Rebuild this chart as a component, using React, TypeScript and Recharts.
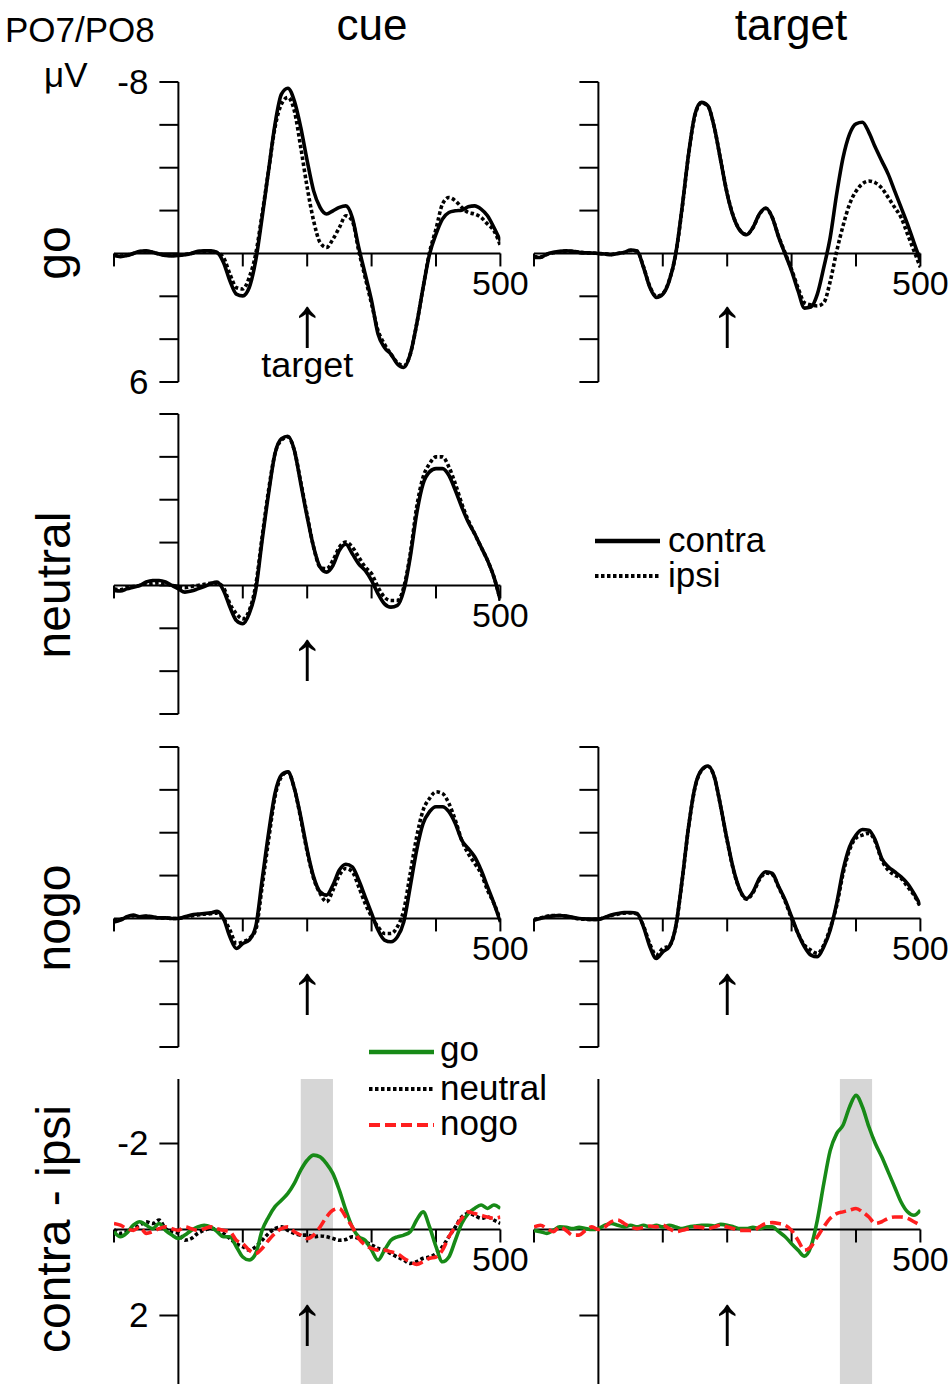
import React from 'react';
import {
  LineChart,
  Line,
  XAxis,
  YAxis,
  ReferenceLine,
  ReferenceArea,
  ReferenceDot,
} from 'recharts';

// time axis (ms), one sample every 10 ms
const TIME_MS = [
  -100, -90, -80, -70, -60, -50, -40, -30, -20, -10,
  0, 10, 20, 30, 40, 50, 60, 70, 80, 90,
  100, 110, 120, 130, 140, 150, 160, 170, 180, 190,
  200, 210, 220, 230, 240, 250, 260, 270, 280, 290,
  300, 310, 320, 330, 340, 350, 360, 370, 380, 390,
  400, 410, 420, 430, 440, 450, 460, 470, 480, 490,
  500,
];

// PO7/PO8 ERPs (µV), negative up
const GO_CUE_CONTRA = [
  0.1, 0.15, 0.1, 0, -0.1, -0.12, -0.05, 0.03, 0.1, 0.12,
  0.1, 0.06, 0, -0.1, -0.12, -0.12, -0.05, 0.42, 1.28, 1.9,
  1.98, 1.59, 0.34, -1.68, -3.86, -6.03, -7.43, -7.71, -7.12, -5.88,
  -4.32, -2.92, -2.15, -1.84, -1.99, -2.15, -2.22, -1.68, -0.28, 0.96,
  2.21, 3.76, 4.39, 4.7, 5.16, 5.32, 4.7, 3.3, 1.59, 0.03,
  -0.9, -1.6, -1.91, -1.99, -2.02, -2.18, -2.22, -2.07, -1.76, -1.21,
  -0.59,
];
const GO_CUE_IPSI = [
  0.05, 0.12, 0.08, 0, -0.08, -0.1, -0.05, 0.02, 0.08, 0.1,
  0.08, 0.05, 0, -0.08, -0.1, -0.1, -0.04, 0.19, 0.96, 1.59,
  1.66, 1.12, 0.03, -1.84, -3.86, -5.88, -6.97, -7.28, -6.66, -4.95,
  -3.08, -1.52, -0.51, -0.28, -0.67, -1.21, -1.76, -1.52, -0.12, 1.12,
  2.36, 3.6, 4.23, 4.7, 5.09, 5.24, 4.7, 3.3, 1.59, -0.05,
  -1.14, -2.3, -2.61, -2.46, -2.15, -1.91, -1.84, -1.68, -1.37, -1.06,
  -0.36,
];
const GO_TARGET_CONTRA = [
  0.19, 0.19, 0.03, -0.05, -0.1, -0.12, -0.1, -0.05, -0.03, -0.02,
  0, 0.03, 0.06, 0, -0.05, -0.16, -0.12, 0.65, 1.59, 2.05,
  1.9, 1.28, 0.03, -2.15, -4.63, -6.5, -7.05, -6.89, -5.88, -4.32,
  -2.77, -1.68, -1.06, -0.87, -1.21, -1.84, -2.12, -1.68, -0.75, 0.03,
  0.81, 1.74, 2.55, 2.5, 1.9, 0.65, -0.75, -2.77, -4.48, -5.57,
  -6.05, -6.12, -5.65, -4.95, -4.32, -3.7, -2.92, -2.15, -1.37, -0.51,
  0.34,
];
const GO_TARGET_IPSI = [
  0.15, 0.17, 0.05, -0.03, -0.08, -0.1, -0.1, -0.06, -0.03, -0.02,
  0, 0.02, 0.05, 0, -0.04, -0.14, -0.1, 0.62, 1.55, 2.0,
  1.87, 1.25, 0.05, -2.1, -4.6, -6.45, -7.02, -6.88, -5.88, -4.34,
  -2.8, -1.7, -1.08, -0.88, -1.2, -1.82, -2.1, -1.68, -0.78, -0.02,
  0.75, 1.6, 2.3, 2.4, 2.45, 2.3, 1.3, -0.1, -1.3, -2.3,
  -2.9, -3.25, -3.38, -3.3, -3.05, -2.61, -2.15, -1.68, -0.9, -0.12,
  0.65,
];
const NEUTRAL_CUE_CONTRA = [
  0.23, 0.26, 0.16, 0.08, 0, -0.16, -0.23, -0.23, -0.16, 0,
  0.16, 0.31, 0.26, 0.16, 0.05, -0.08, -0.16, 0.23, 1.01, 1.64,
  1.79, 1.32, 0.23, -2.1, -4.28, -6.15, -6.85, -6.96, -6.31, -4.75,
  -3.19, -1.79, -0.86, -0.62, -0.93, -1.64, -1.92, -1.48, -1.01, -0.7,
  -0.23, 0.39, 0.86, 1.01, 0.93, 0.23, -1.32, -3.35, -4.75, -5.3,
  -5.45, -5.45, -5.14, -4.44, -3.66, -2.96, -2.41, -1.79, -1.17, -0.39,
  0.7,
];
const NEUTRAL_CUE_IPSI = [
  0.15, 0.2, 0.1, 0.05, 0, -0.08, -0.1, -0.12, -0.08, 0,
  0.05, 0.1, 0.05, 0, -0.05, -0.1, -0.1, 0.1, 0.86, 1.32,
  1.56, 1.17, 0, -2.26, -4.44, -6.15, -6.78, -6.93, -6.31, -4.83,
  -3.27, -1.79, -0.86, -0.78, -1.17, -1.79, -2.02, -1.79, -1.32, -0.86,
  -0.55, 0.08, 0.55, 0.7, 0.7, 0.08, -1.48, -3.66, -5.06, -5.68,
  -6.0, -6.0, -5.53, -4.75, -3.82, -3.04, -2.41, -1.79, -1.17, -0.39,
  0.7,
];
const NOGO_CUE_CONTRA = [
  0.16, 0.08, -0.08, -0.16, -0.08, -0.11, -0.08, -0.03, -0.03, 0,
  0, -0.08, -0.16, -0.2, -0.23, -0.26, -0.33, 0, 0.86, 1.4,
  1.17, 1.01, 0.39, -1.79, -3.97, -5.83, -6.69, -6.84, -6.07, -4.74,
  -3.19, -1.94, -1.24, -1.09, -1.56, -2.26, -2.53, -2.41, -1.79, -1.01,
  -0.23, 0.54, 1.01, 1.09, 0.86, 0.16, -1.48, -3.19, -4.43, -4.98,
  -5.21, -5.21, -4.98, -4.43, -3.65, -3.27, -2.88, -2.26, -1.48, -0.7,
  0.16,
];
const NOGO_CUE_IPSI = [
  0.12, 0.05, -0.06, -0.12, -0.06, -0.1, -0.06, -0.02, -0.02, 0,
  0, -0.06, -0.12, -0.16, -0.2, -0.22, -0.25, 0, 0.54, 1.17,
  1.09, 0.93, 0.54, -1.48, -3.65, -5.68, -6.61, -6.84, -6.07, -4.66,
  -3.11, -1.87, -1.17, -0.78, -1.32, -2.02, -2.33, -2.18, -1.48, -0.7,
  -0.08, 0.39, 0.7, 0.7, 0.39, -0.39, -2.1, -3.81, -5.05, -5.6,
  -5.91, -5.83, -5.37, -4.59, -3.65, -3.03, -2.57, -2.1, -1.32, -0.7,
  0.08,
];
const NOGO_TARGET_CONTRA = [
  0.08, 0, -0.08, -0.12, -0.14, -0.11, -0.05, 0, 0.03, 0.05,
  0.05, -0.05, -0.16, -0.23, -0.28, -0.28, -0.23, 0.39, 1.32, 1.87,
  1.56, 1.32, 0.39, -1.79, -4.28, -6.14, -6.92, -7.11, -6.61, -5.21,
  -3.65, -2.26, -1.32, -0.93, -1.24, -1.87, -2.18, -2.1, -1.48, -0.86,
  -0.08, 0.7, 1.32, 1.71, 1.79, 1.32, 0.54, -0.7, -2.26, -3.34,
  -3.89, -4.15, -4.12, -3.65, -2.8, -2.41, -2.18, -1.94, -1.63, -1.17,
  -0.62,
];
const NOGO_TARGET_IPSI = [
  0.05, -0.02, -0.1, -0.14, -0.14, -0.1, -0.04, 0.02, 0.04, 0.05,
  0.04, -0.04, -0.14, -0.2, -0.25, -0.26, -0.2, 0.35, 1.2, 1.71,
  1.4, 1.28, 0.4, -1.75, -4.25, -6.1, -6.9, -7.1, -6.6, -5.2,
  -3.62, -2.22, -1.3, -0.9, -1.2, -1.8, -2.12, -2.05, -1.45, -0.8,
  0, 0.7, 1.25, 1.48, 1.63, 1.24, 0.45, -0.6, -2.1, -3.2,
  -3.75, -3.89, -3.97, -3.58, -2.72, -2.26, -2.02, -1.87, -1.48, -1.09,
  -0.54,
];

// contra - ipsi difference waves (µV)
const DIFF_CUE_GO = [
  0.05, 0.17, 0.08, -0.1, -0.18, -0.1, -0.02, -0.14, 0.02, 0.13,
  0.21, 0.13, 0.02, -0.06, -0.1, -0.06, 0.05, 0.17, 0.17, 0.4,
  0.64, 0.71, 0.56, 0.02, -0.29, -0.53, -0.68, -0.84, -1.07, -1.38,
  -1.61, -1.73, -1.69, -1.53, -1.3, -0.91, -0.45, -0.06, 0.17, 0.25,
  0.48, 0.71, 0.48, 0.25, 0.17, 0.13, 0.05, -0.22, -0.41, -0.06,
  0.4, 0.75, 0.64, 0.25, -0.14, -0.37, -0.49, -0.57, -0.49, -0.57,
  -0.49,
];
const DIFF_CUE_NEUTRAL = [
  0, 0.09, 0.05, -0.02, -0.1, -0.18, -0.14, -0.22, -0.02, 0.05,
  0.09, 0.25, 0.21, 0.09, 0.02, -0.02, 0, 0.09, 0.21, 0.33,
  0.4, 0.48, 0.4, 0.25, 0.09, -0.02, -0.06, 0.02, 0.09, 0.13,
  0.13, 0.17, 0.15, 0.17, 0.21, 0.25, 0.23, 0.17, 0.21, 0.29,
  0.36, 0.44, 0.48, 0.56, 0.64, 0.71, 0.79, 0.75, 0.67, 0.64,
  0.56, 0.4, 0.17, -0.06, -0.29, -0.37, -0.33, -0.26, -0.29, -0.22,
  -0.14,
];
const DIFF_CUE_NOGO = [
  -0.14, -0.1, -0.02, 0.02, -0.06, 0.09, 0.05, -0.02, -0.06, -0.02,
  0.02, -0.06, -0.02, 0.02, -0.02, -0.06, -0.02, 0.02, 0.05, 0.25,
  0.33, 0.48, 0.56, 0.44, 0.25, 0.09, -0.02, -0.06, 0.05, 0.13,
  0.21, 0.13, -0.06, -0.29, -0.45, -0.49, -0.29, -0.06, 0.21, 0.36,
  0.44, 0.48, 0.48, 0.52, 0.56, 0.67, 0.75, 0.81, 0.75, 0.67,
  0.64, 0.48, 0.17, -0.06, -0.26, -0.41, -0.37, -0.33, -0.29, -0.26,
  -0.29,
];
const DIFF_TARGET_GO = [
  0.02, 0.05, 0.09, 0.02, -0.06, -0.05, -0.02, -0.05, -0.02, 0,
  -0.02, -0.1, -0.14, -0.1, -0.06, -0.1, -0.06, -0.1, -0.06, -0.1,
  -0.06, -0.1, -0.06, -0.02, -0.06, -0.08, -0.1, -0.1, -0.08, -0.12,
  -0.1, -0.06, -0.02, -0.02, -0.05, -0.02, -0.06, -0.06, 0.05, 0.17,
  0.33, 0.48, 0.62, 0.4, -0.22, -1.07, -1.84, -2.23, -2.43, -2.85,
  -3.12, -2.85, -2.39, -2.0, -1.69, -1.34, -0.99, -0.64, -0.41, -0.33,
  -0.45,
];
const DIFF_TARGET_NOGO = [
  -0.06, -0.1, -0.02, 0.05, -0.06, 0.02, 0.13, 0.13, 0.02, -0.06,
  0, -0.06, -0.18, -0.22, -0.14, -0.06, -0.02, -0.05, -0.08, -0.06,
  -0.1, -0.02, 0.05, 0.02, -0.02, -0.06, -0.05, -0.02, -0.06, -0.1,
  -0.06, -0.02, 0.02, 0.02, 0.03, -0.06, -0.14, -0.16, -0.14, -0.1,
  0.02, 0.25, 0.48, 0.4, 0.17, -0.06, -0.26, -0.37, -0.41, -0.45,
  -0.49, -0.41, -0.29, -0.14, -0.18, -0.26, -0.29, -0.29, -0.26, -0.18,
  -0.1,
];

// ticks and windows
const ERP_TICKS = [-8, -6, -4, -2, 0, 2, 4, 6];
const ERP_TICK_LABELS = [-8, 6];
const DIFF_TICKS = [-2, 2];
const TIME_TICKS = [-100, 100, 200, 300, 400, 500];
const CUE_WINDOW = [190, 240];
const TARGET_WINDOW = [375, 425];

const FONT = '"Liberation Sans", Arial, Helvetica, sans-serif';
const GREEN = '#178a17';
const RED = '#ff1f1f';
const BAND = '#d6d6d6';

// page layout (px)
const PX_PER_MS = 0.644;
const PAD = 60;
const CUE_AXIS_X = 178;
const TARGET_AXIS_X = 598;
const ERP_PX_PER_UV = 21.43;
const DIFF_PX_PER_UV = 43;
const ERP_DOMAIN = [-8, 6];
const DIFF_DOMAIN = [-3.5, 3.6];

type Trace = { key: string; values: number[]; color: string; width: number; dash?: string };

const contra = (values: number[]): Trace => ({ key: 'contra', values, color: '#000', width: 3.6 });
const ipsi = (values: number[]): Trace => ({ key: 'ipsi', values, color: '#000', width: 3.6, dash: '3.5 2.5' });

const pinned = (text: string, dx: number, dy: number, size: number, anchor = 'middle') =>
  (props: any) => {
    const vb = props.viewBox || {};
    const cx = (vb.x ?? 0) + (vb.width ?? 0) / 2;
    const cy = (vb.y ?? 0) + (vb.height ?? 0) / 2;
    return (
      <text x={cx + dx} y={cy + dy} textAnchor={anchor} fontSize={size} fontFamily={FONT} fill="#000">
        {text}
      </text>
    );
  };

function Panel({
  axisX,
  zeroY,
  domain,
  pxPerUv,
  traces,
  yTicks,
  yLabels = [],
  band,
  arrowDy,
  showTarget = false,
}: {
  axisX: number;
  zeroY: number;
  domain: number[];
  pxPerUv: number;
  traces: Trace[];
  yTicks: number[];
  yLabels?: number[];
  band?: number[];
  arrowDy: number;
  showTarget?: boolean;
}) {
  const [lo, hi] = domain;
  const plotW = 600 * PX_PER_MS;
  const plotH = (hi - lo) * pxPerUv;
  const left = axisX - 100 * PX_PER_MS - PAD;
  const top = zeroY + lo * pxPerUv - PAD;
  const yTickMs = 19 / PX_PER_MS;
  const xTickUv = 13 / pxPerUv;

  const rows = TIME_MS.map((t, i) => {
    const row: Record<string, number> = { t };
    traces.forEach(tr => {
      row[tr.key] = tr.values[i];
    });
    return row;
  });

  const axisStroke = { stroke: '#000', strokeWidth: 2 };

  return (
    <div style={{ position: 'absolute', left, top }}>
      <LineChart
        width={plotW + 2 * PAD}
        height={plotH + 2 * PAD}
        data={rows}
        margin={{ top: PAD, right: PAD, bottom: PAD, left: PAD }}
      >
        <XAxis dataKey="t" type="number" domain={[-100, 500]} allowDataOverflow hide />
        <YAxis type="number" domain={[lo, hi]} reversed allowDataOverflow hide />
        {band && (
          <ReferenceArea x1={band[0]} x2={band[1]} y1={lo} y2={hi} fill={BAND} fillOpacity={1} stroke="none" />
        )}
        <ReferenceLine y={0} {...axisStroke} />
        <ReferenceLine segment={[{ x: 0, y: lo }, { x: 0, y: hi }]} {...axisStroke} />
        {yTicks.map(v => (
          <ReferenceLine key={`yt-${v}`} segment={[{ x: -yTickMs, y: v }, { x: 0, y: v }]} {...axisStroke} />
        ))}
        {TIME_TICKS.map(t => (
          <ReferenceLine key={`xt-${t}`} segment={[{ x: t, y: 0 }, { x: t, y: xTickUv }]} {...axisStroke} />
        ))}
        {traces.map(tr => (
          <Line
            key={tr.key}
            dataKey={tr.key}
            type="monotone"
            stroke={tr.color}
            strokeWidth={tr.width}
            strokeDasharray={tr.dash}
            strokeLinecap="butt"
            dot={false}
            activeDot={false}
            isAnimationActive={false}
          />
        ))}
        {yLabels.map(v => (
          <ReferenceDot
            key={`yl-${v}`}
            x={0}
            y={v}
            r={1}
            fill="none"
            stroke="none"
            label={pinned(String(v), -30, 12, 35, 'end')}
          />
        ))}
        <ReferenceDot x={500} y={0} r={1} fill="none" stroke="none" label={pinned('500', 0, 42, 34)} />
        <ReferenceDot x={200} y={0} r={1} fill="none" stroke="none" label={pinned('↑', 0, arrowDy, 70)} />
        {showTarget && (
          <ReferenceDot x={200} y={0} r={1} fill="none" stroke="none" label={pinned('target', 0, 124, 36)} />
        )}
      </LineChart>
    </div>
  );
}

function Overlay() {
  const t = { fontFamily: FONT, fill: '#000' };
  const rowLabel = (text: string, y: number) => (
    <text x={70} y={y} fontSize={48} textAnchor="middle" transform={`rotate(-90 70 ${y})`} {...t}>
      {text}
    </text>
  );
  return (
    <svg width={950} height={1384} style={{ position: 'absolute', left: 0, top: 0 }}>
      <text x={5} y={42} fontSize={35} {...t}>PO7/PO8</text>
      <text x={44} y={87} fontSize={35} {...t}>μV</text>
      <text x={372} y={40} fontSize={44} textAnchor="middle" {...t}>cue</text>
      <text x={791} y={40} fontSize={44} textAnchor="middle" {...t}>target</text>
      {rowLabel('go', 253)}
      {rowLabel('neutral', 585)}
      {rowLabel('nogo', 918)}
      {rowLabel('contra - ipsi', 1229)}

      <line x1={595} x2={660} y1={541} y2={541} stroke="#000" strokeWidth={4.5} />
      <text x={668} y={552} fontSize={35} {...t}>contra</text>
      <line x1={595} x2={660} y1={576} y2={576} stroke="#000" strokeWidth={4} strokeDasharray="3.5 2.5" />
      <text x={668} y={587} fontSize={35} {...t}>ipsi</text>

      <line x1={369} x2={434} y1={1052} y2={1052} stroke={GREEN} strokeWidth={4.5} />
      <text x={440} y={1061} fontSize={35} {...t}>go</text>
      <line x1={369} x2={434} y1={1089} y2={1089} stroke="#000" strokeWidth={4} strokeDasharray="3.5 2.5" />
      <text x={440} y={1100} fontSize={35} {...t}>neutral</text>
      <line x1={369} x2={434} y1={1125} y2={1125} stroke={RED} strokeWidth={4} strokeDasharray="11 5" />
      <text x={440} y={1135} fontSize={35} {...t}>nogo</text>
    </svg>
  );
}

export default function App() {
  const diffTrace = (key: string, values: number[], color: string, dash?: string): Trace => ({
    key,
    values,
    color,
    width: 3.6,
    dash,
  });

  return (
    <div
      style={{
        position: 'absolute',
        left: 0,
        top: 0,
        width: 950,
        height: 1384,
        overflow: 'hidden',
        background: '#fff',
      }}
    >
      <Overlay />
      <Panel
        axisX={CUE_AXIS_X}
        zeroY={253}
        domain={ERP_DOMAIN}
        pxPerUv={ERP_PX_PER_UV}
        traces={[ipsi(GO_CUE_IPSI), contra(GO_CUE_CONTRA)]}
        yTicks={ERP_TICKS}
        yLabels={ERP_TICK_LABELS}
        arrowDy={93}
        showTarget
      />
      <Panel
        axisX={TARGET_AXIS_X}
        zeroY={253}
        domain={ERP_DOMAIN}
        pxPerUv={ERP_PX_PER_UV}
        traces={[ipsi(GO_TARGET_IPSI), contra(GO_TARGET_CONTRA)]}
        yTicks={ERP_TICKS}
        arrowDy={93}
      />
      <Panel
        axisX={CUE_AXIS_X}
        zeroY={585}
        domain={ERP_DOMAIN}
        pxPerUv={ERP_PX_PER_UV}
        traces={[ipsi(NEUTRAL_CUE_IPSI), contra(NEUTRAL_CUE_CONTRA)]}
        yTicks={ERP_TICKS}
        arrowDy={94}
      />
      <Panel
        axisX={CUE_AXIS_X}
        zeroY={918}
        domain={ERP_DOMAIN}
        pxPerUv={ERP_PX_PER_UV}
        traces={[ipsi(NOGO_CUE_IPSI), contra(NOGO_CUE_CONTRA)]}
        yTicks={ERP_TICKS}
        arrowDy={95}
      />
      <Panel
        axisX={TARGET_AXIS_X}
        zeroY={918}
        domain={ERP_DOMAIN}
        pxPerUv={ERP_PX_PER_UV}
        traces={[ipsi(NOGO_TARGET_IPSI), contra(NOGO_TARGET_CONTRA)]}
        yTicks={ERP_TICKS}
        arrowDy={95}
      />
      <Panel
        axisX={CUE_AXIS_X}
        zeroY={1229}
        domain={DIFF_DOMAIN}
        pxPerUv={DIFF_PX_PER_UV}
        traces={[
          diffTrace('neutral', DIFF_CUE_NEUTRAL, '#000', '3.5 2.5'),
          diffTrace('go', DIFF_CUE_GO, GREEN),
          diffTrace('nogo', DIFF_CUE_NOGO, RED, '11 5'),
        ]}
        yTicks={DIFF_TICKS}
        yLabels={DIFF_TICKS}
        band={CUE_WINDOW}
        arrowDy={115}
      />
      <Panel
        axisX={TARGET_AXIS_X}
        zeroY={1229}
        domain={DIFF_DOMAIN}
        pxPerUv={DIFF_PX_PER_UV}
        traces={[diffTrace('go', DIFF_TARGET_GO, GREEN), diffTrace('nogo', DIFF_TARGET_NOGO, RED, '11 5')]}
        yTicks={DIFF_TICKS}
        band={TARGET_WINDOW}
        arrowDy={115}
      />
    </div>
  );
}
